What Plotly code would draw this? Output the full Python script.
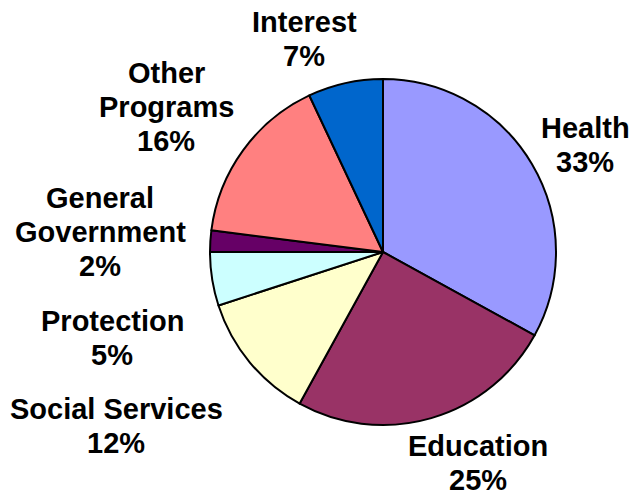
import plotly.graph_objects as go

# Spending shares by program area
categories = ["Health", "Education", "Social Services", "Protection",
              "General Government", "Other Programs", "Interest"]
shares = [33, 25, 12, 5, 2, 16, 7]
label_lines = [["Health"], ["Education"], ["Social Services"], ["Protection"],
               ["General", "Government"], ["Other", "Programs"], ["Interest"]]
colors = ["#9999FF", "#993366", "#FFFFCC", "#CCFFFF", "#660066", "#FF8080", "#0066CC"]

W, H = 630, 493
# label block anchor (pixel centre of first line) for each category
label_pos = [(585, 128), (478, 446), (116, 409), (112, 321),
             (100, 198), (166, 73), (304, 22)]
LINE_GAP = 34

fig = go.Figure(go.Pie(
    labels=categories,
    values=shares,
    sort=False,
    direction="clockwise",
    rotation=0,
    marker=dict(colors=colors, line=dict(color="black", width=2)),
    textinfo="none",
    hoverinfo="label+percent",
    showlegend=False,
    domain=dict(x=[210 / W, 556 / W], y=[1 - 425 / H, 1 - 79 / H]),
))

font = dict(family="Liberation Sans, Arial, sans-serif", size=29, color="black")
annotations = []
for lines, val, (px, py) in zip(label_lines, shares, label_pos):
    for k, txt in enumerate(lines + [f"{val}%"]):
        annotations.append(dict(
            x=px / W, y=1 - py / H, xref="paper", yref="paper",
            text=f"<b>{txt}</b>", showarrow=False,
            xanchor="center", yanchor="middle",
            yshift=-k * LINE_GAP, font=font,
        ))

fig.update_layout(
    width=W, height=H,
    margin=dict(l=0, r=0, t=0, b=0),
    paper_bgcolor="white", plot_bgcolor="white",
    annotations=annotations,
)

fig.write_html("out.html")
